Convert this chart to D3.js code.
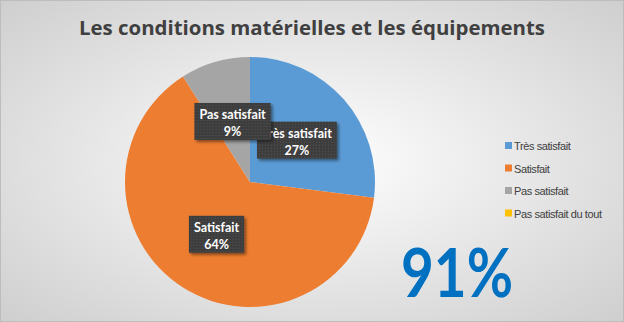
<!DOCTYPE html>
<html><head><meta charset="utf-8">
<script src="https://cdn.jsdelivr.net/npm/d3@7"></script>
<style>html,body{margin:0;padding:0;background:#fff}svg{display:block}</style>
</head><body>
<svg id="c" width="624" height="322"></svg>
<script>
const categories = ["Très satisfait", "Satisfait", "Pas satisfait", "Pas satisfait du tout"];
const values = [27, 64, 9, 0];
const colors = ["#5B9BD5", "#ED7D31", "#A5A5A5", "#FFC000"];
const title = "Les conditions matérielles et les équipements";
const bigNumber = "91%";

const W = 624, H = 322;
const svg = d3.select("#c");
const defs = svg.append("defs");

const rg = defs.append("radialGradient").attr("id","bg").attr("cx","50%").attr("cy","50%").attr("r","70%");
rg.append("stop").attr("offset","0%").attr("stop-color","#ffffff");
rg.append("stop").attr("offset","100%").attr("stop-color","#cfcfcf");

const pat = defs.append("pattern").attr("id","dots").attr("width",3).attr("height",3).attr("patternUnits","userSpaceOnUse");
pat.append("rect").attr("width",3).attr("height",3).attr("fill","#3d3d3d");
pat.append("rect").attr("x",1).attr("y",1).attr("width",1).attr("height",1).attr("fill","#555555");

const sh = defs.append("filter").attr("id","sh").attr("x","-20%").attr("y","-20%").attr("width","150%").attr("height","150%");
sh.append("feDropShadow").attr("dx",2).attr("dy",2).attr("stdDeviation",1.5).attr("flood-color","#000").attr("flood-opacity",0.45);

svg.append("rect").attr("x",0.5).attr("y",0.5).attr("width",W-1).attr("height",H-1)
  .attr("fill","url(#bg)").attr("stroke","#bdbdbd").attr("stroke-width",1);

svg.append("text").attr("x",W/2).attr("y",35).attr("text-anchor","middle")
  .attr("font-family","'Open Sans', sans-serif").attr("font-weight","bold").attr("font-size",20)
  .attr("fill","#404040").attr("textLength",466).attr("lengthAdjust","spacingAndGlyphs").text(title);

const cx = 250, cy = 182, R = 125;
const pie = d3.pie().sort(null).value(d => d.v);
const data = pie(categories.map((c,i)=>({c, v: values[i], col: colors[i]})));
const arc = d3.arc().innerRadius(0).outerRadius(R);
const labelArc = d3.arc().innerRadius(R*0.5).outerRadius(R*0.5);
const g = svg.append("g").attr("transform",`translate(${cx},${cy})`);
g.selectAll("path").data(data.filter(d=>d.data.v>0)).join("path")
  .attr("d",arc).attr("fill",d=>d.data.col);

const lg = g.append("g");
const order = data.filter(d=>d.data.v>0);
order.forEach(d => {
  const [x,y] = labelArc.centroid(d);
  const grp = lg.append("g").attr("transform",`translate(${x},${y})`);
  const t1 = grp.append("text").attr("text-anchor","middle").attr("y",-3)
    .attr("font-family","Lato, sans-serif").attr("font-weight","bold").attr("font-size",12.5)
    .attr("fill","#fff").text(d.data.c);
  const t2 = grp.append("text").attr("text-anchor","middle").attr("y",14)
    .attr("font-family","Lato, sans-serif").attr("font-weight","bold").attr("font-size",12.5)
    .attr("fill","#fff").text(d.data.v + "%");
  const w = Math.max(t1.node().getComputedTextLength(), t2.node().getComputedTextLength()) + 10;
  grp.insert("rect","text").attr("x",-w/2).attr("y",-19).attr("width",w).attr("height",37)
    .attr("fill","url(#dots)").attr("filter","url(#sh)");
});

const leg = svg.append("g").attr("transform","translate(505,146)");
categories.forEach((c,i)=>{
  const row = leg.append("g").attr("transform",`translate(0,${i*22.5})`);
  row.append("rect").attr("x",0).attr("y",-4).attr("width",7).attr("height",7).attr("fill",colors[i]);
  row.append("text").attr("x",9).attr("y",4).attr("font-family","'Liberation Sans', Arial, sans-serif")
    .attr("font-size",11).attr("fill","#404040").attr("letter-spacing",-0.4).text(c);
});

svg.append("text").attr("x",401).attr("y",297)
  .attr("font-family","Lato, sans-serif").attr("font-weight","bold").attr("font-size",66)
  .attr("fill","#0070C0").attr("textLength",112).attr("lengthAdjust","spacingAndGlyphs").text(bigNumber);
</script>
</body></html>
